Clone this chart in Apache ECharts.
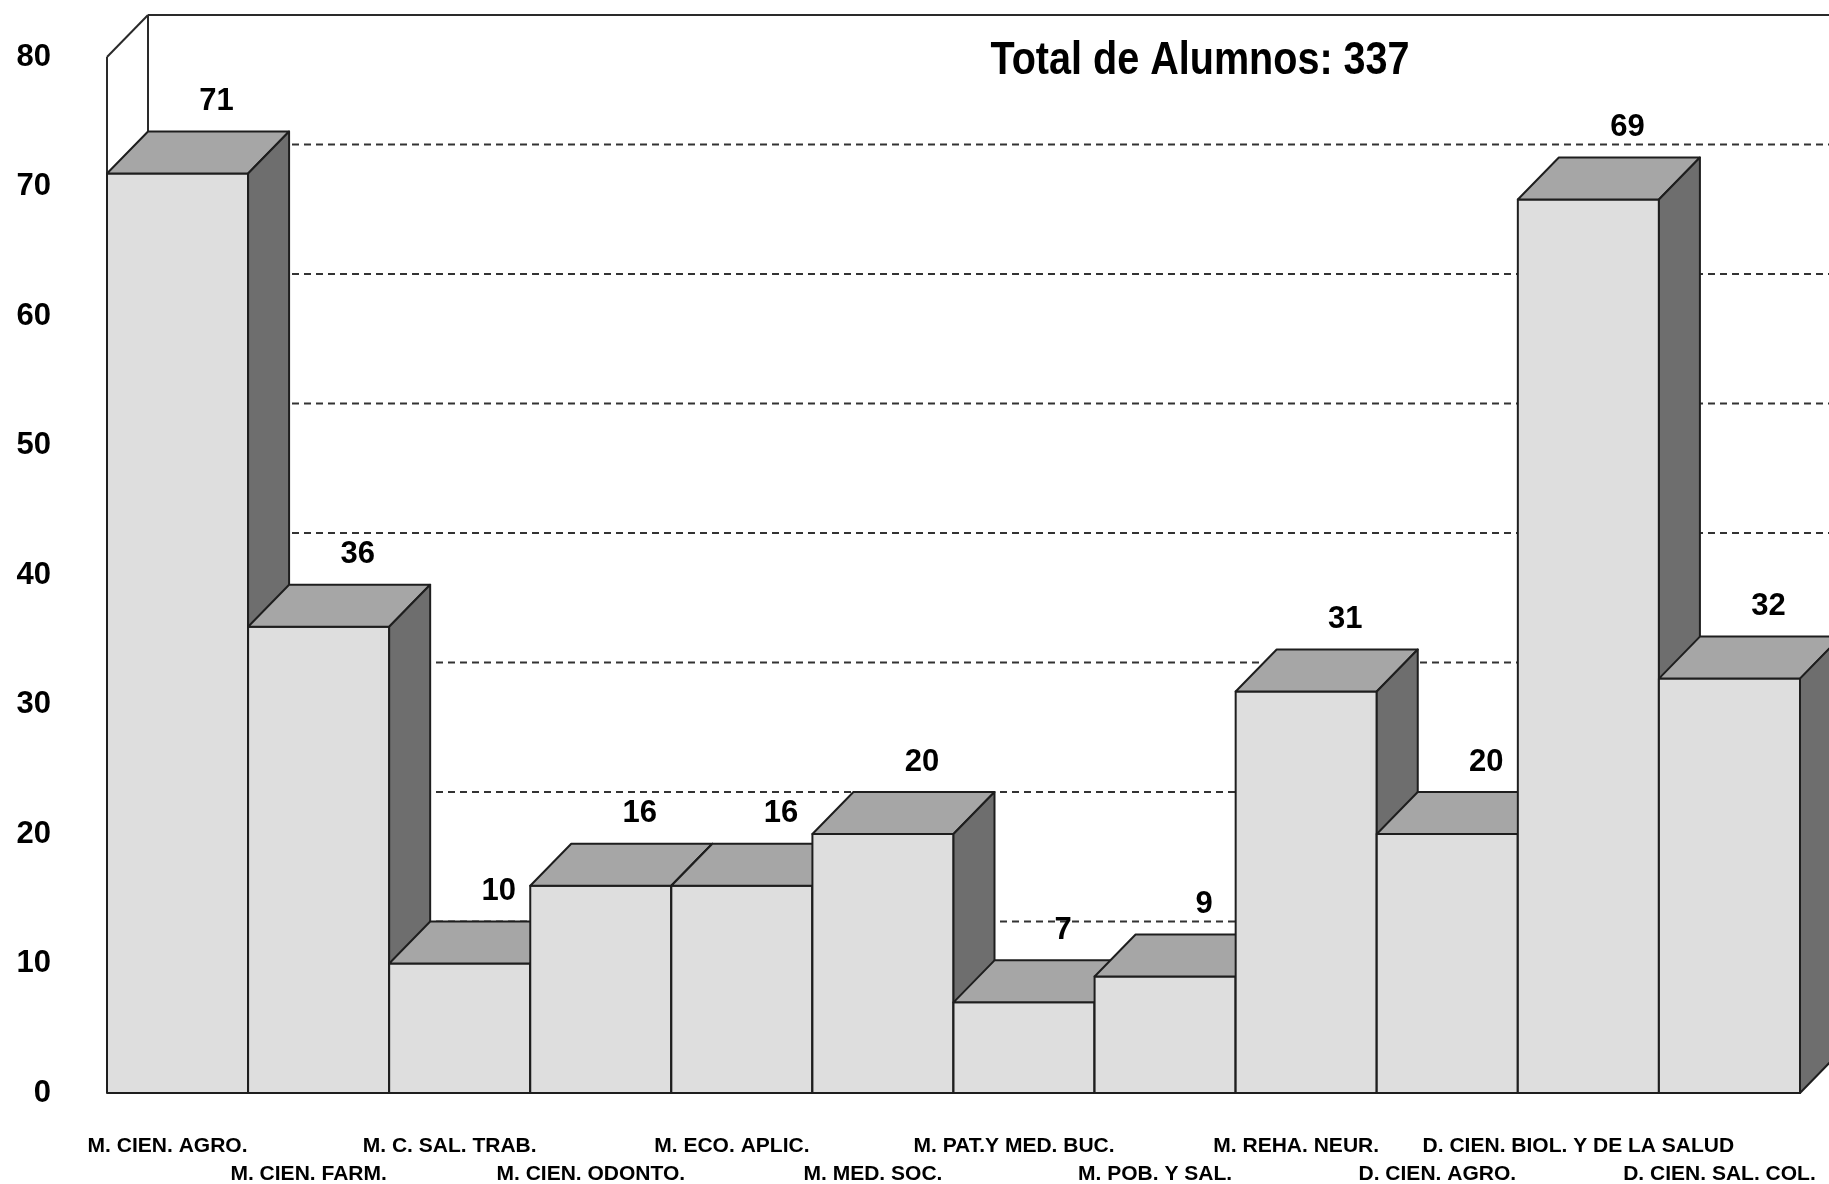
<!DOCTYPE html>
<html><head><meta charset="utf-8">
<script src="https://cdn.jsdelivr.net/npm/echarts@6/dist/echarts.min.js"></script>
<style>html,body{margin:0;padding:0;background:#fff}#c{width:1829px;height:1184px}</style>
</head><body><div id="c"></div>
<script>
const categories = ['M. CIEN. AGRO.','M. CIEN. FARM.','M. C. SAL. TRAB.','M. CIEN. ODONTO.','M. ECO. APLIC.','M. MED. SOC.','M. PAT.Y MED. BUC.','M. POB. Y SAL.','M. REHA. NEUR.','D. CIEN. AGRO.','D. CIEN. BIOL. Y DE LA SALUD','D. CIEN. SAL. COL.'];
const values = [71,36,10,16,16,20,7,9,31,20,69,32];
const gridValues = [10,20,30,40,50,60,70];
const yMin = 0, yMax = 80, yInterval = 10;
const titleText = 'Total de Alumnos: 337';

const DX = 41, DY = -42;
const FONT = "'Liberation Sans', Arial, Helvetica, sans-serif";
const EDGE = {stroke:'#1e1e1e', lineWidth:2, lineJoin:'round'};

const chart = echarts.init(document.getElementById('c'), null, {renderer:'canvas'});

function barItem(params, api){
  const i = api.value(0), v = api.value(1);
  const c = api.coord([i, v]), b = api.coord([i, 0]);
  const w = api.size([1, 0])[0];
  const L = c[0] - w/2, R = c[0] + w/2, T = c[1], B = b[1];
  const z = params.dataIndex * 3;
  return {type:'group', children:[
    {type:'polygon', z2:z, shape:{points:[[L,T],[R,T],[R,B],[L,B]]}, style:Object.assign({fill:'#dedede'}, EDGE)},
    {type:'polygon', z2:z+1, shape:{points:[[L,T],[L+DX,T+DY],[R+DX,T+DY],[R,T]]}, style:Object.assign({fill:'#a6a6a6'}, EDGE)},
    {type:'polygon', z2:z+2, shape:{points:[[R,T],[R+DX,T+DY],[R+DX,B+DY],[R,B]]}, style:Object.assign({fill:'#6e6e6e'}, EDGE)}
  ]};
}

function gridItem(params, api){
  const v = api.value(1);
  const p = api.coord([0, v]);
  const w = api.size([1, 0])[0];
  const x0 = p[0] - w/2 + DX, y = p[1] + DY;
  return {type:'line', shape:{x1:x0, y1:y, x2:api.getWidth() + 50, y2:y},
    style:{stroke:'#333333', lineWidth:1.8, lineDash:[7,5]}};
}

function frameItem(params, api){
  const top = api.coord([0, api.value(1)]);
  const bot = api.coord([0, yMin]);
  const w = api.size([1, 0])[0];
  const L = top[0] - w/2;
  const st = {stroke:'#2a2a2a', lineWidth:2};
  return {type:'group', children:[
    {type:'line', shape:{x1:L+DX, y1:top[1]+DY, x2:api.getWidth()+50, y2:top[1]+DY}, style:st},
    {type:'line', shape:{x1:L, y1:top[1], x2:L+DX, y2:top[1]+DY}, style:st},
    {type:'line', shape:{x1:L, y1:top[1], x2:L, y2:bot[1]}, style:st},
    {type:'line', shape:{x1:L+DX, y1:top[1]+DY, x2:L+DX, y2:bot[1]+DY}, style:st}
  ]};
}

function labelItem(params, api){
  const i = api.value(0), v = api.value(1);
  const c = api.coord([i, v]);
  return {type:'text', x:c[0] + DX - 2, y:c[1] + DY - 30,
    style:{text:String(v), font:'bold 31px ' + FONT, fill:'#000',
      align:'center', verticalAlign:'middle', textAlign:'center', textVerticalAlign:'middle'}};
}

chart.setOption({
  animation:false,
  backgroundColor:'#fff',
  grid:{left:107, right:29, top:57, bottom:91, containLabel:false, outerBoundsMode:'none'},
  xAxis:{type:'category', data:categories, boundaryGap:true,
    axisLine:{show:false}, axisTick:{show:false}, splitLine:{show:false},
    axisLabel:{interval:0, margin:39, fontSize:21, fontWeight:'bold', fontFamily:FONT, color:'#000',
      lineHeight:28, padding:[0,20,0,0],
      formatter:function(val, idx){ return idx % 2 ? '\n' + val : val; }}},
  yAxis:{type:'value', min:yMin, max:yMax, interval:yInterval,
    axisLine:{show:false}, axisTick:{show:false}, splitLine:{show:false},
    axisLabel:{margin:56, fontSize:31, fontWeight:'bold', fontFamily:FONT, color:'#000',
      padding:[6,0,0,0]}},
  graphic:[{type:'text', x:1200, y:61, scaleX:0.86,
    style:{text:titleText, font:'bold 46px ' + FONT, fill:'#000',
      align:'center', verticalAlign:'middle', textAlign:'center', textVerticalAlign:'middle'}}],
  series:[
    {type:'custom', z:1, clip:false, silent:true, renderItem:gridItem,
      data:gridValues.map(v => [0, v])},
    {type:'custom', z:1, clip:false, silent:true, renderItem:frameItem,
      data:[[0, yMax]]},
    {type:'custom', z:2, clip:false, renderItem:barItem,
      data:values.map((v, i) => [i, v])},
    {type:'custom', z:3, clip:false, renderItem:labelItem,
      data:values.map((v, i) => [i, v])}
  ]
});
</script></body></html>
